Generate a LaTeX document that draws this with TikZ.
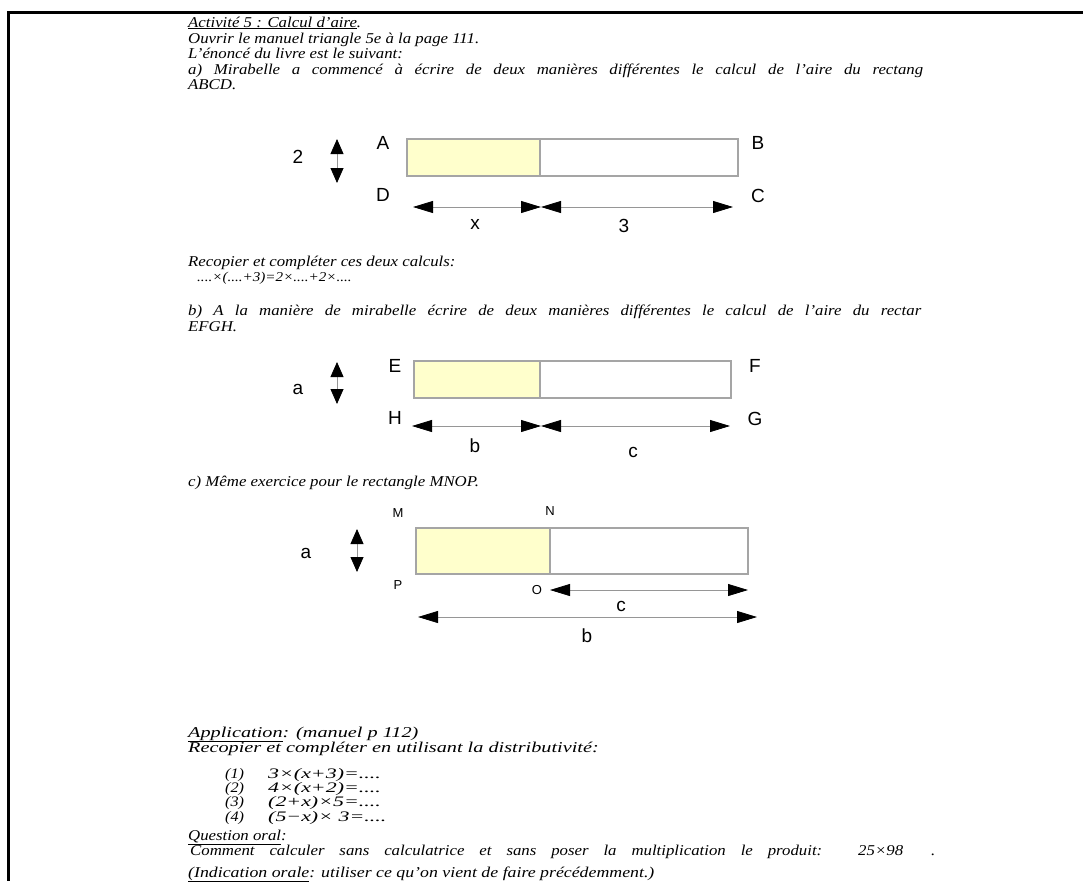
\documentclass[tikz,border=0pt]{standalone}
\usepackage{fontspec}
\usepackage{graphicx}
\setmainfont{Liberation Serif}[FakeStretch=1.12]
\newfontfamily\widefont{Liberation Serif}[FakeStretch=1.35]
\newfontfamily\lsans{Liberation Sans}
\usetikzlibrary{arrows.meta}
\definecolor{boxfill}{RGB}{255,255,204}
\definecolor{boxline}{RGB}{165,165,165}
\definecolor{arrline}{RGB}{150,150,150}
\newcommand{\sx}[2]{\scalebox{#1}[1]{#2}}
\newcommand{\just}[2]{\makebox[#1][s]{#2}}
\begin{document}
\begin{tikzpicture}[x=1pt,y=-1pt,
  txt/.style={anchor=base west, inner sep=0pt, font=\fontsize{15}{17}\selectfont\itshape},
  wtxt/.style={anchor=base west, inner sep=0pt, font=\widefont\fontsize{15}{17}\selectfont\itshape},
  ftxt/.style={anchor=base west, inner sep=0pt, font=\fontsize{13.5}{15}\selectfont\itshape},
  etxt/.style={anchor=base west, inner sep=0pt, font=\fontsize{14.5}{15}\selectfont\itshape},
  lab/.style={inner sep=0pt, font=\lsans\fontsize{19}{19}\selectfont},
  smlab/.style={inner sep=0pt, font=\lsans\fontsize{13}{13}\selectfont},
  hdim/.style={draw=arrline, line width=0.8pt, {Triangle[length=20pt,width=12pt,color=black]}-{Triangle[length=20pt,width=12pt,color=black]}},
  vdim/.style={draw=arrline, line width=0.8pt, {Triangle[length=15pt,width=13pt,color=black]}-{Triangle[length=15pt,width=13pt,color=black]}},
  rectbox/.style={draw=boxline, line width=1.2pt},
]
\useasboundingbox (0,0) rectangle (1083,881);
\fill[white] (0,0) rectangle (1083,881);
\draw[line width=3pt] (1083,12) -- (8,12) -- (8,881);

% ---------- header text ----------
\node[txt] (t1) at (188,27) {\underline{Activité 5 : Calcul d'aire}.};
\node[txt] (t2) at (188,43) {Ouvrir le manuel triangle 5e à la page 111.};
\node[txt] (t3) at (188,58.5) {L'énoncé du livre est le suivant:};
\node[txt] (t4) at (188,74) {\just{735pt}{a) Mirabelle a commencé à écrire de deux manières différentes le calcul de l'aire du rectang}};
\node[txt] (t5) at (188,89) {ABCD.};

% ---------- rectangle ABCD ----------
\coordinate (A0) at (407,139);
\coordinate (C0) at (738,176);
\coordinate (S0t) at (540,139);
\coordinate (S0b) at (540,176);
\fill[boxfill] (A0) rectangle (S0b);
\draw[rectbox] (A0) rectangle (C0);
\draw[rectbox] (S0t) -- (S0b);
\node[lab] (two) at (298,157) {2};
\coordinate (v1t) at (337,139);
\coordinate (v1b) at (337,183);
\draw[vdim] (v1t) -- (v1b);
\node[lab] (lA) at (383,143) {A};
\node[lab] (lB) at (758,143) {B};
\node[lab] (lD) at (383,195) {D};
\node[lab] (lC) at (758,196) {C};
\coordinate (h1a) at (413,207);
\coordinate (h1m) at (541,207);
\coordinate (h1b) at (733,207);
\draw[hdim] (h1a) -- (h1m);
\draw[hdim] (h1m) -- (h1b);
\node[lab] (lx) at (475,224) {x};
\node[lab] (l3) at (624,226) {3};

% ---------- text ----------
\node[txt] (t6) at (188,266) {Recopier et compléter ces deux calculs:};
\node[ftxt] (t7) at (197,281) {....×(....+3)=2×....+2×....};
\node[txt] (t8) at (188,315) {\just{733pt}{b) A la manière de mirabelle écrire de deux manières différentes le calcul de l'aire du rectar}};
\node[txt] (t9) at (188,331) {EFGH.};

% ---------- rectangle EFGH ----------
\coordinate (E0) at (414,361);
\coordinate (G0) at (731,398);
\coordinate (S1t) at (540,361);
\coordinate (S1b) at (540,398);
\fill[boxfill] (E0) rectangle (S1b);
\draw[rectbox] (E0) rectangle (G0);
\draw[rectbox] (S1t) -- (S1b);
\node[lab] (la1) at (298,389) {a};
\coordinate (v2t) at (337,362);
\coordinate (v2b) at (337,404);
\draw[vdim] (v2t) -- (v2b);
\node[lab] (lE) at (395,366) {E};
\node[lab] (lF) at (755,366) {F};
\node[lab] (lH) at (395,418) {H};
\node[lab] (lG) at (755,419) {G};
\coordinate (h2a) at (412,426);
\coordinate (h2m) at (541,426);
\coordinate (h2b) at (730,426);
\draw[hdim] (h2a) -- (h2m);
\draw[hdim] (h2m) -- (h2b);
\node[lab] (lb1) at (475,446) {b};
\node[lab] (lc1) at (633,452) {c};

\node[txt] (t10) at (188,486) {c) Même exercice pour le rectangle MNOP.};

% ---------- rectangle MNOP ----------
\coordinate (M0) at (416,528);
\coordinate (O0) at (748,574);
\coordinate (S2t) at (550,528);
\coordinate (S2b) at (550,574);
\fill[boxfill] (M0) rectangle (S2b);
\draw[rectbox] (M0) rectangle (O0);
\draw[rectbox] (S2t) -- (S2b);
\node[lab] (la2) at (306,553) {a};
\coordinate (v3t) at (357,529);
\coordinate (v3b) at (357,572);
\draw[vdim] (v3t) -- (v3b);
\node[smlab] (lM) at (398,513) {M};
\node[smlab] (lN) at (550,511) {N};
\node[smlab] (lP) at (398,585) {P};
\node[smlab] (lO) at (537,590) {O};
\coordinate (h3a) at (550,590);
\coordinate (h3b) at (748,590);
\draw[hdim] (h3a) -- (h3b);
\node[lab] (lc2) at (621,606) {c};
\coordinate (h4a) at (418,617);
\coordinate (h4b) at (757,617);
\draw[hdim] (h4a) -- (h4b);
\node[lab] (lb2) at (587,636) {b};

% ---------- application ----------
\node[wtxt] (t11) at (188,737) {\underline{Application}: (manuel p 112)};
\node[wtxt] (t12) at (188,752) {Recopier et compléter en utilisant la distributivité:};
\node[etxt] (n1) at (225,778) {(1)};
\node[etxt] (f1) at (268,778) {\sx{1.35}{3×(x+3)=....}};
\node[etxt] (n2) at (225,792) {(2)};
\node[etxt] (f2) at (268,792) {\sx{1.35}{4×(x+2)=....}};
\node[etxt] (n3) at (225,806) {(3)};
\node[etxt] (f3) at (268,806) {\sx{1.35}{(2+x)×5=....}};
\node[etxt] (n4) at (225,821) {(4)};
\node[etxt] (f4) at (268,821) {\sx{1.35}{(5−x)× 3=....}};

\node[txt] (t13) at (188,840) {\underline{Question oral}:};
\node[txt] (t14) at (190,855) {\just{632pt}{Comment calculer sans calculatrice et sans poser la multiplication le produit:}};
\node[txt] (t14b) at (858,855) {25×98};
\node[txt] (t14c) at (931,855) {.};
\node[txt] (t15) at (188,877) {\sx{1.06}{\underline{(Indication orale}: utiliser ce qu'on vient de faire précédemment.)}};
\end{tikzpicture}
\end{document}
